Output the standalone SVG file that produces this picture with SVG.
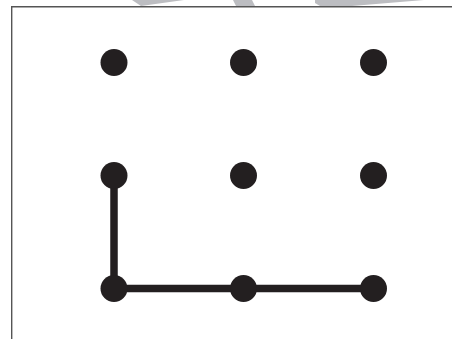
<svg xmlns="http://www.w3.org/2000/svg" width="452" height="339" viewBox="0 0 452 339">
<style>
.dot{fill:#231f20}
.conn{fill:none;stroke:#231f20;stroke-width:7.5;stroke-linejoin:miter}
.frame{fill:none;stroke:#555;stroke-width:1.4}
.wm{fill:#bcbdc1}
</style>
<rect width="452" height="339" fill="#fff"/>
<g id="watermark">
<polygon class="wm" points="132,0 184,0 141,6"/>
<polygon class="wm" points="233,0 252,0 255,6 236,6"/>
<polygon class="wm" points="315,0 424,0 352,6 320,6 315,3"/>
</g>
<path class="frame" d="M11.7,339 V6.7 H452"/>
<g id="connectors">
<path class="conn" d="M114,175.5 V288.5 H373.5"/>
</g>
<g id="n11"><circle class="dot" cx="114" cy="62.5" r="13.5"/></g>
<g id="n12"><circle class="dot" cx="243.5" cy="62.5" r="13.5"/></g>
<g id="n13"><circle class="dot" cx="373.5" cy="62.5" r="13.5"/></g>
<g id="n21"><circle class="dot" cx="114" cy="175.5" r="13.5"/></g>
<g id="n22"><circle class="dot" cx="243.5" cy="175.5" r="13.5"/></g>
<g id="n23"><circle class="dot" cx="373.5" cy="175.5" r="13.5"/></g>
<g id="n31"><circle class="dot" cx="114" cy="288.5" r="13.5"/></g>
<g id="n32"><circle class="dot" cx="243.5" cy="288.5" r="13.5"/></g>
<g id="n33"><circle class="dot" cx="373.5" cy="288.5" r="13.5"/></g>
</svg>
